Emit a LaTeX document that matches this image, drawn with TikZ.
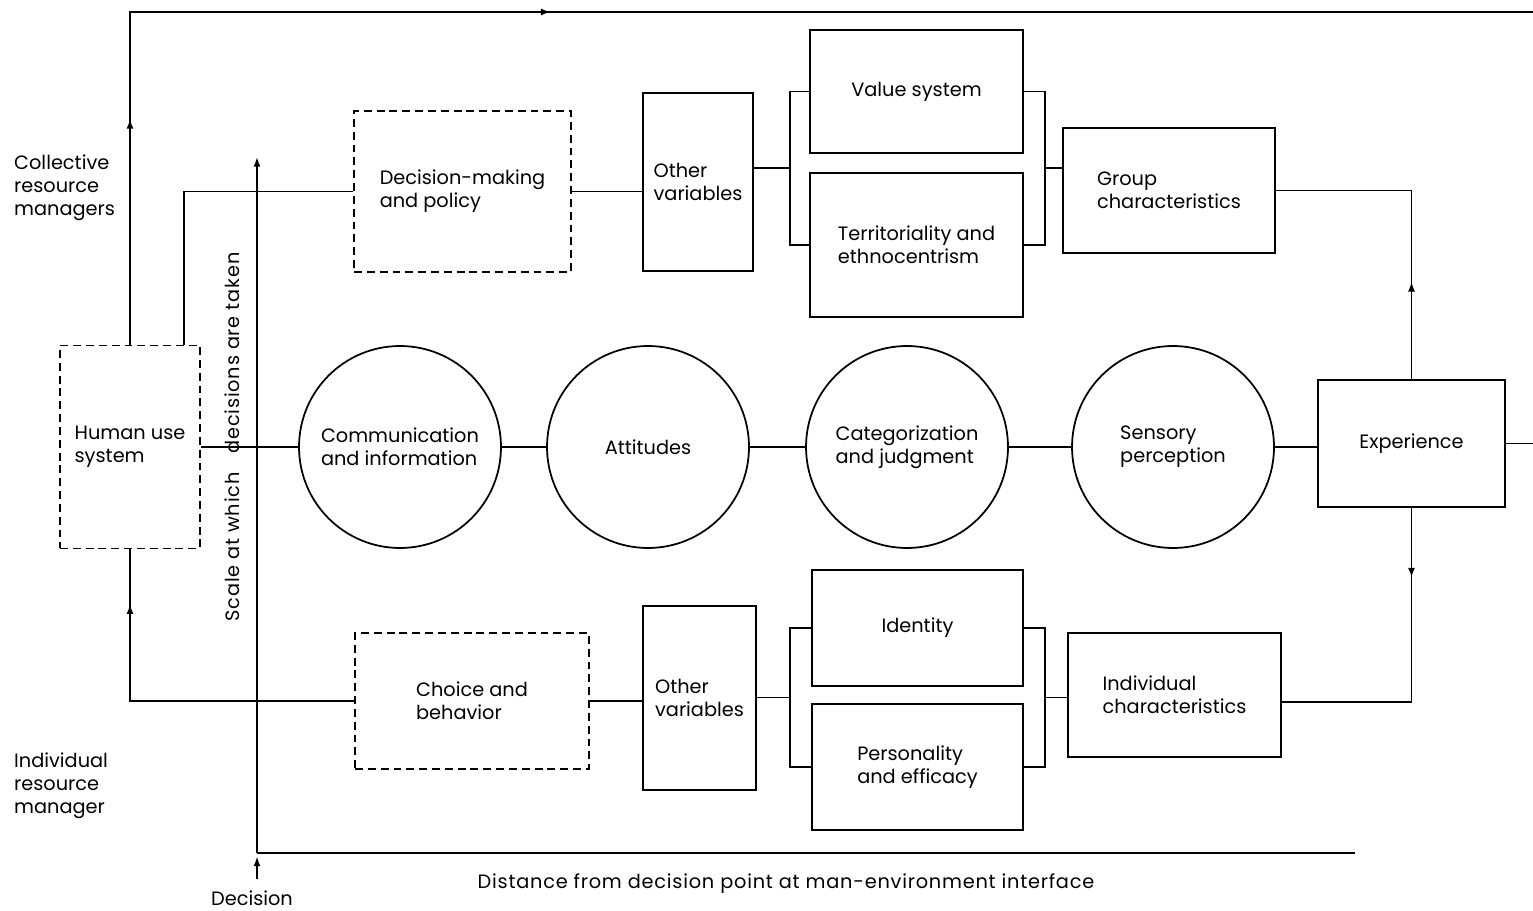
\documentclass[tikz,border=0pt]{standalone}
\usepackage{fontspec}
\setmainfont{Poppins}
\newfontfamily\widefont[LetterSpace=4.0]{Poppins}
\usetikzlibrary{arrows.meta,calc,decorations.markings}

\tikzset{
	blk/.style={draw, line width=1pt, align=left, inner sep=0pt},
	dblk/.style={blk, dash pattern=on 4.5pt off 2.8pt},
	crc/.style={draw, circle, line width=1pt, minimum size=4.04cm, align=left, inner sep=0pt},
	ln/.style={line width=1pt},
	tip/.style={-{Latex[length=5.5pt,width=4pt]}},
	midarr/.style={postaction={decorate, decoration={markings,
		mark=at position #1 with {\arrow{Latex[length=5.5pt,width=4pt]}}}}}
}

\begin{document}
\begin{tikzpicture}[x=0.02cm, y=-0.02cm, font=\fontsize{11}{13}\selectfont]
		\useasboundingbox (0,0) rectangle (1533,911);

		\node [dblk, minimum width=2.8cm, minimum height=4.06cm] (hus) at (130,447) {Human use\\system};
		\node [dblk, minimum width=4.34cm, minimum height=3.22cm] (dmp) at (462.5,191.5) {Decision-making\\and policy};
		\node [blk, minimum width=2.2cm, minimum height=3.56cm] (ov1) at (698,182) {Other\\variables};
		\node [blk, minimum width=4.26cm, minimum height=2.46cm] (val) at (916.5,91.5) {Value system};
		\node [blk, minimum width=4.26cm, minimum height=2.88cm] (ter) at (916.5,245) {Territoriality and\\ethnocentrism};
		\node [blk, minimum width=4.24cm, minimum height=2.5cm] (grp) at (1169,190.5) {Group\\characteristics};

		\node [crc] (com) at (400,447) {Communication\\and information};
		\node [crc] (att) at (648,447) {Attitudes};
		\node [crc] (cat) at (907,447) {Categorization\\and judgment};
		\node [crc] (sen) at (1173,447) {Sensory\\perception};
		\node [blk, minimum width=3.74cm, minimum height=2.54cm] (exp) at (1411.5,443.5) {Experience};

		\node [dblk, minimum width=4.68cm, minimum height=2.72cm] (chb) at (472,701) {Choice and\\behavior};
		\node [blk, minimum width=2.26cm, minimum height=3.68cm] (ov2) at (699.5,698) {Other\\variables};
		\node [blk, minimum width=4.22cm, minimum height=2.32cm] (ide) at (917.5,628) {Identity};
		\node [blk, minimum width=4.22cm, minimum height=2.52cm] (per) at (917.5,767) {Personality\\and efficacy};
		\node [blk, minimum width=4.26cm, minimum height=2.48cm] (ind) at (1174.5,695) {Individual\\characteristics};

		\node [anchor=west, align=left] (col) at (8,188) {Collective\\resource\\managers};
		\node [anchor=west, align=left] (inm) at (8,786) {Individual\\resource\\manager};
		\node [rotate=90, font=\widefont\fontsize{11}{13}\selectfont] (scl) at (232,437) {Scale at which\hspace{1em}decisions are taken};
		\node (dec) at (252,898) {Decision};
		\node [font=\widefont\fontsize{11}{13}\selectfont] (dst) at (786,884) {Distance from decision point at man-environment interface};

		\coordinate (org) at (257,853);
		\coordinate (yax) at (257,157);
		\coordinate (xax) at (1355,853);
		\coordinate (topend) at (1533,12);

		\draw [ln, tip] (org) -- (yax);
		\draw [ln] (org) -- (xax);
		\draw [ln, tip, shorten <=3pt, shorten >=2pt] (org |- dec.north) -- (org);

		\draw [ln, midarr=0.13, midarr=0.434] (hus.north) |- (topend);
		\draw [ln] ($(hus.north east)+(-17,0)$) |- (dmp.west);
		\draw [ln, midarr=0.854] (chb.west) -| (hus.south);

		\draw [ln] (hus.east) -- (com.west);
		\draw [ln] (com.east) -- (att.west);
		\draw [ln] (att.east) -- (cat.west);
		\draw [ln] (cat.east) -- (sen.west);
		\draw [ln] (sen.east) -- (sen.east -| exp.west);
		\draw [ln] (exp.east) -- (exp.east -| topend);
		\draw [ln, midarr=0.3] (exp.north) |- (grp.east);
		\draw [ln, midarr=0.215] (exp.south) |- ($(ind.east)+(0,7)$);

		\draw [ln] (dmp.east) -- (dmp.east -| ov1.west);
		\draw [ln] (chb.east) -- (chb.east -| ov2.west);

		\draw [ln] (val.west) -- ++(-19,0) |- (ter.west);
		\coordinate (lb1) at ($(val.west)!0.5!(ter.west)+(-19,0)$);
		\draw [ln] (ov1.east |- lb1) -- (lb1);
		\draw [ln] (val.east) -- ++(21,0) |- (ter.east);
		\coordinate (rb1) at ($(val.east)!0.5!(ter.east)+(21,0)$);
		\draw [ln] (rb1) -- (rb1 -| grp.west);

		\draw [ln] (ide.west) -- ++(-21,0) |- (per.west);
		\coordinate (lb2) at ($(ide.west)!0.5!(per.west)+(-21,0)$);
		\draw [ln] (ov2.east |- lb2) -- (lb2);
		\draw [ln] (ide.east) -- ++(21,0) |- (per.east);
		\coordinate (rb2) at ($(ide.east)!0.5!(per.east)+(21,0)$);
		\draw [ln] (rb2) -- (rb2 -| ind.west);
\end{tikzpicture}
\end{document}
